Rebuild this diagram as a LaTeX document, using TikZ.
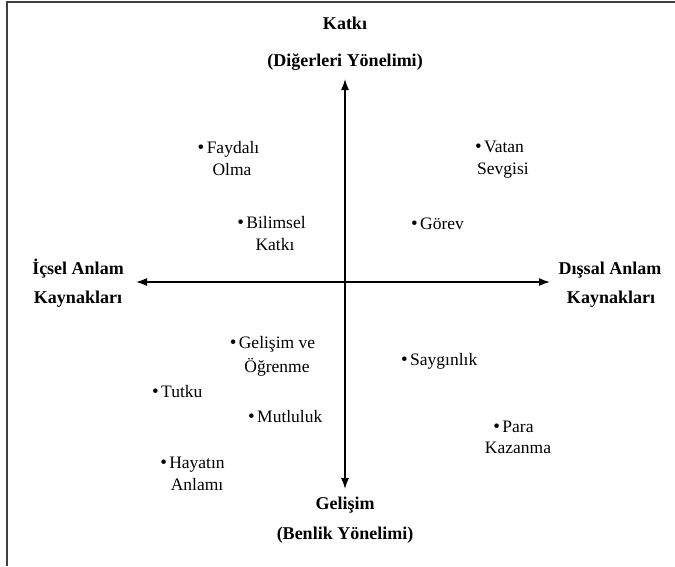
\documentclass[tikz,border=0pt]{standalone}
\usepackage{fontspec}
\newfontfamily\lab{Liberation Serif}
\usetikzlibrary{arrows.meta}
\begin{document}
\begin{tikzpicture}[x=1pt,y=-1pt,
  lbl/.style={font=\lab\bfseries\fontsize{18}{20}\selectfont, inner sep=0pt, anchor=base},
  itm/.style={font=\lab\fontsize{17.5}{19}\selectfont, inner sep=0pt, anchor=base},
  itmw/.style={itm, anchor=base west},
  bul/.style={font=\lab\fontsize{19}{19}\selectfont, inner sep=0pt, anchor=base east},
  axisarrow/.style={line width=1.4pt, {Latex[length=11pt,width=8pt]}-{Latex[length=11pt,width=8pt]}},
  frameline/.style={line width=1.2pt, draw=black!75}]
\useasboundingbox (0,0) rectangle (675,566);
% frame (top and left edges)
\draw[frameline] (7,566) -- (7,2) -- (675,2);
% axes
\coordinate (T) at (345,79);
\coordinate (B) at (345,489);
\coordinate (L) at (136,282);
\coordinate (R) at (550,282);
\draw[axisarrow] (T) -- (B);
\draw[axisarrow] (L) -- (R);
% axis labels
\node[lbl] (katki) at (345,29) {Katkı};
\node[lbl] (diger) at (345,66) {(Diğerleri Yönelimi)};
\node[lbl] (icsel1) at (78,274) {İçsel Anlam};
\node[lbl] (icsel2) at (78,303) {Kaynakları};
\node[lbl] (dissal1) at (610,274) {Dışsal Anlam};
\node[lbl] (dissal2) at (611,303) {Kaynakları};
\node[lbl] (gelisim) at (345,509) {Gelişim};
\node[lbl] (benlik) at (345,539) {(Benlik Yönelimi)};
% items
\node[itm] (f1) at (233,153) {Faydalı};
\node[itm] (f2) at (232,175) {Olma};
\node[bul] at ([xshift=-2pt]f1.base west) {•};
\node[itm] (b1) at (276,228) {Bilimsel};
\node[itm] (b2) at (275,250) {Katkı};
\node[bul] at ([xshift=-2pt]b1.base west) {•};
\node[itm] (v1) at (504,152) {Vatan};
\node[itm] (v2) at (503,174) {Sevgisi};
\node[bul] at ([xshift=-2pt]v1.base west) {•};
\node[itmw] (g) at (420,229) {Görev};
\node[bul] at ([xshift=-2pt]g.base west) {•};
\node[itm] (o1) at (277,348) {Gelişim ve};
\node[itm] (o2) at (277,372) {Öğrenme};
\node[bul] at ([xshift=-2pt]o1.base west) {•};
\node[itmw] (s) at (410,365) {Saygınlık};
\node[bul] at ([xshift=-2pt]s.base west) {•};
\node[itmw] (t) at (161,397) {Tutku};
\node[bul] at ([xshift=-2pt]t.base west) {•};
\node[itmw] (m) at (257,422) {Mutluluk};
\node[bul] at ([xshift=-2pt]m.base west) {•};
\node[itm] (p1) at (518,432) {Para};
\node[itm] (p2) at (518,453) {Kazanma};
\node[bul] at ([xshift=-2pt]p1.base west) {•};
\node[itm] (h1) at (197,468) {Hayatın};
\node[itm] (h2) at (197,490) {Anlamı};
\node[bul] at ([xshift=-2pt]h1.base west) {•};
\end{tikzpicture}
\end{document}
